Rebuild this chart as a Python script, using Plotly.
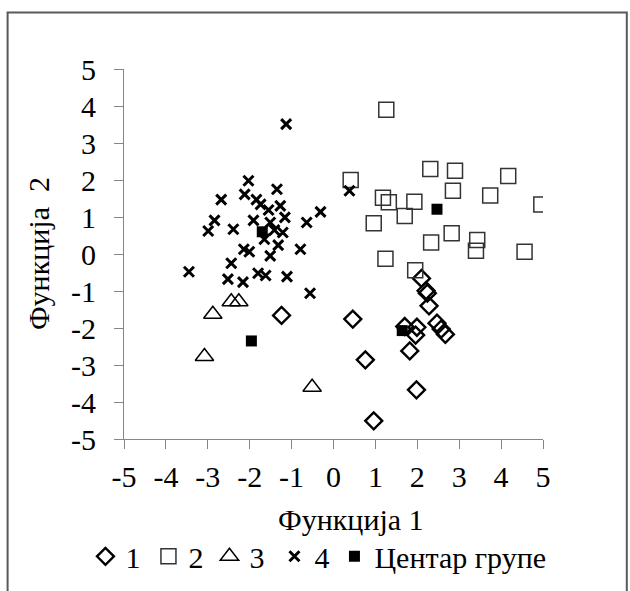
import plotly.graph_objects as go

# Discriminant function scores per group (Функција 1, Функција 2)
g1_x = [2.10, 2.21, 2.24, 2.28, 2.47, 2.57, 2.67, 1.70, 1.99, 1.96, 1.82, 0.76, 1.98, 0.96, 0.46, -1.24]
g1_y = [-0.66, -0.99, -1.06, -1.40, -1.87, -2.03, -2.17, -1.96, -1.98, -2.19, -2.62, -2.86, -3.67, -4.51, -1.76, -1.66]

g2_x = [1.26, 2.31, 2.90, 4.17, 0.41, 2.85, 3.74, 4.96, 1.18, 1.32, 1.93, 1.70, 0.96, 2.82, 2.33, 3.43, 3.40, 4.56, 1.24, 1.95]
g2_y = [3.90, 2.30, 2.25, 2.11, 2.00, 1.71, 1.58, 1.34, 1.52, 1.40, 1.41, 1.03, 0.83, 0.56, 0.31, 0.38, 0.09, 0.06, -0.13, -0.44]

g3_x = [-2.88, -2.44, -2.26, -3.08, -0.51]
g3_y = [-1.63, -1.29, -1.29, -2.77, -3.60]

g4_x = [-2.03, -1.35, -2.68, -2.12, -1.84, -1.74, -1.55, -1.27, -1.16, -0.31, -0.64,
        -2.84, -2.99, -2.39, -1.91, -1.51, -1.41, -1.21, -1.65, -1.32, -0.79, -2.14,
        -2.01, -1.51, -3.45, -2.44, -2.52, -2.16, -1.80, -1.62, -1.11, -0.56, -1.13, 0.38]
g4_y = [1.98, 1.75, 1.47, 1.61, 1.47, 1.34, 1.19, 1.30, 0.99, 1.14, 0.85,
        0.91, 0.62, 0.67, 0.91, 0.85, 0.65, 0.58, 0.40, 0.24, 0.13, 0.13,
        0.06, -0.05, -0.48, -0.25, -0.68, -0.76, -0.52, -0.58, -0.61, -1.06, 3.51, 1.71]

centers_x = [1.64, 2.47, -1.96, -1.70]
centers_y = [-2.07, 1.21, -2.35, 0.60]

series_names = ["1", "2", "3", "4", "Центар групе"]
tick_vals = [-5, -4, -3, -2, -1, 0, 1, 2, 3, 4, 5]
tick_text = ["-5", "-4", "-3", "-2", "-1", "0", "1", "2", "3", "4", "5"]

FONT = "Liberation Serif"
FS = 30
AXIS_GRAY = "#868686"

fig = go.Figure()
fig.add_trace(go.Scatter(x=g1_x, y=g1_y, mode="markers", name=series_names[0], legendwidth=18,
                         marker=dict(symbol="diamond-open", size=13, color="black",
                                     line=dict(width=2.4, color="black"))))
fig.add_trace(go.Scatter(x=g2_x, y=g2_y, mode="markers", name=series_names[1], legendwidth=16,
                         marker=dict(symbol="square-open", size=15, color="#333333",
                                     line=dict(width=1.5, color="#333333"))))
fig.add_trace(go.Scatter(x=g3_x, y=g3_y, mode="markers", name=series_names[2], legendwidth=20,
                         marker=dict(symbol="triangle-up-open", size=16, color="black",
                                     line=dict(width=1.5, color="black"))))
fig.add_trace(go.Scatter(x=g4_x, y=g4_y, mode="markers", name=series_names[3], legendwidth=15,
                         marker=dict(symbol="x-thin-open", size=10, color="black",
                                     line=dict(width=3, color="black"))))
fig.add_trace(go.Scatter(x=centers_x, y=centers_y, mode="markers", name=series_names[4],
                         marker=dict(symbol="square", size=11, color="black",
                                     line=dict(width=0))))

axis_common = dict(range=[-5, 5], tickvals=tick_vals, ticktext=tick_text, ticks="outside",
                   ticklen=9, tickwidth=1, tickcolor=AXIS_GRAY, showline=True,
                   linecolor=AXIS_GRAY, linewidth=1, showgrid=False, zeroline=False,
                   tickfont=dict(family=FONT, size=FS, color="black"))
fig.update_xaxes(**axis_common, ticklabelstandoff=2)
fig.update_yaxes(**axis_common, ticklabelstandoff=12)

fig.update_layout(
    width=630, height=591,
    margin=dict(l=124, r=87, t=69, b=152, autoexpand=False),
    paper_bgcolor="white", plot_bgcolor="white",
    font=dict(family=FONT, size=FS, color="black"),
    showlegend=True,
    legend=dict(orientation="h", x=-0.092, y=-0.317, xanchor="left", yanchor="middle",
                font=dict(family=FONT, size=FS, color="black"),
                itemwidth=30, tracegroupgap=0, bgcolor="rgba(0,0,0,0)"),
    annotations=[
        dict(text="Функција 1", xref="paper", yref="paper", x=0.541, y=-0.218,
             xanchor="center", yanchor="middle", showarrow=False,
             font=dict(family=FONT, size=FS, color="black")),
        dict(text="Функција\u00a0\u00a02", xref="paper", yref="paper", x=-0.205, y=0.5,
             xanchor="center", yanchor="middle", showarrow=False, textangle=-90,
             font=dict(family=FONT, size=FS, color="black")),
    ],
    shapes=[
        dict(type="rect", xref="paper", yref="paper", x0=-0.2778, x1=1.2, y0=-0.45, y1=1.153,
             line=dict(color="#595959", width=2), fillcolor="rgba(0,0,0,0)", layer="below"),
    ],
)

fig.write_html("out.html")
